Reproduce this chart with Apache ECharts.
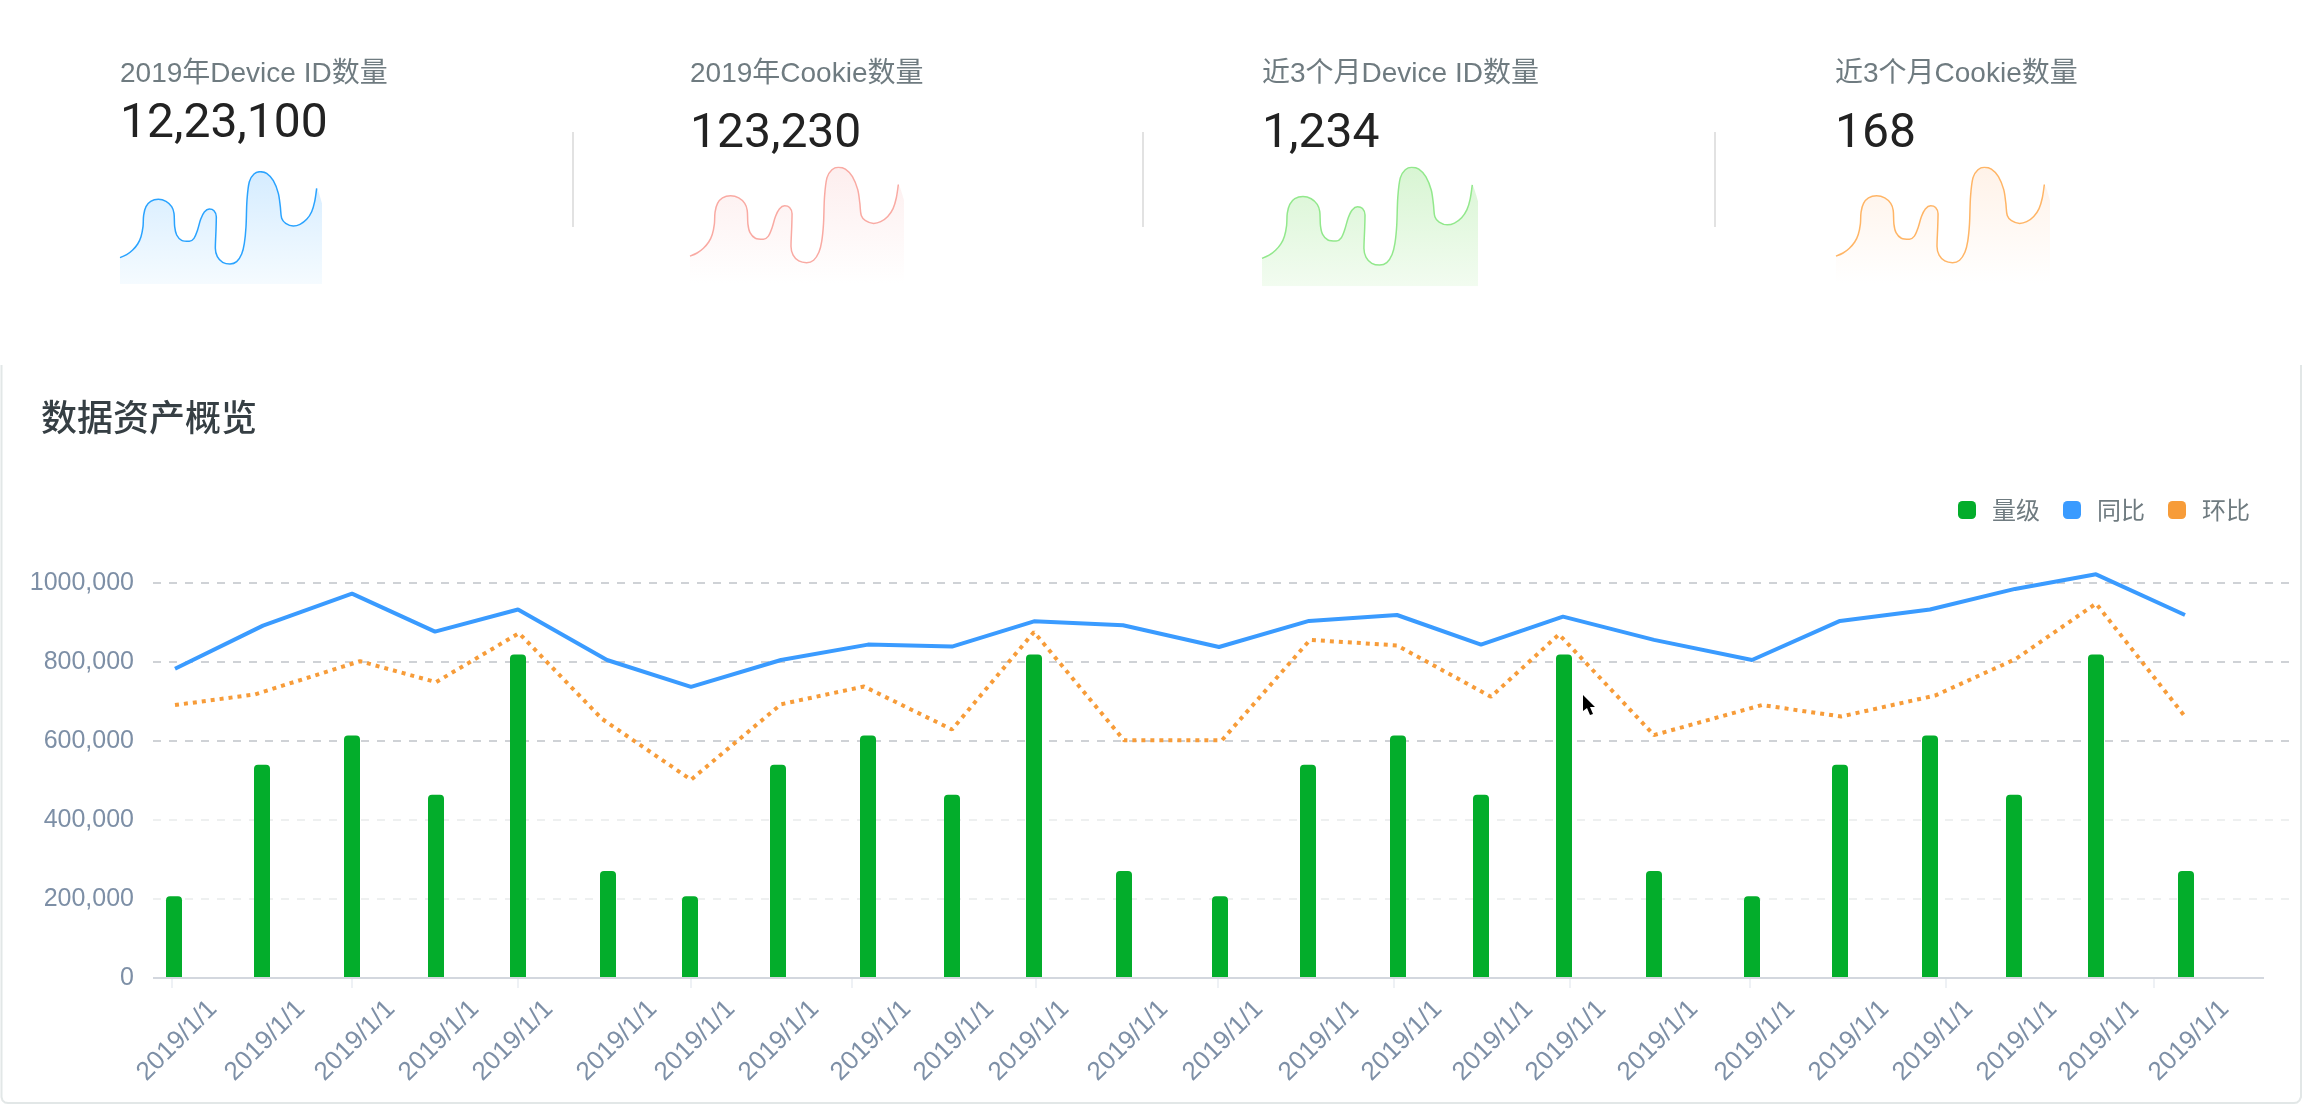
<!DOCTYPE html>
<html><head><meta charset="utf-8">
<style>html,body{margin:0;padding:0;background:#fff}#c{width:2314px;height:1104px}</style>
<script src="https://cdn.jsdelivr.net/npm/echarts@6/dist/echarts.min.js"></script>
</head><body><div id="c"></div>
<script>
const statTitles = ['2019年Device ID数量','2019年Cookie数量','近3个月Device ID数量','近3个月Cookie数量'];
const statValues = ['12,23,100','123,230','1,234','168'];
const sectionTitle = '数据资产概览';
const seriesNames = ['量级','同比','环比'];
const dateLabels = ['2019/1/1','2019/1/1','2019/1/1','2019/1/1','2019/1/1','2019/1/1','2019/1/1','2019/1/1','2019/1/1','2019/1/1','2019/1/1','2019/1/1','2019/1/1','2019/1/1','2019/1/1','2019/1/1','2019/1/1','2019/1/1','2019/1/1','2019/1/1','2019/1/1','2019/1/1','2019/1/1','2019/1/1'];
const valueTickLabels = {0:'0',200000:'200,000',400000:'400,000',600000:'600,000',800000:'800,000',1000000:'1000,000'};

// time-like x readings on the main chart
const labelX = [60,148,238,322,396,500,578,662,754,837,912,1011,1106,1202,1285,1376,1449,1541,1638,1732,1816,1900,1982,2072];
const tickX = [19,199,365,538,699,883,1065,1241,1417,1597,1793,2001];
const barX = [21,109,199,283,365,455,537,625,715,799,881,971,1067,1155,1245,1328,1411,1501,1599,1687,1777,1861,1943,2033];
const blueX = [22,110,199,282,365,454,538,628,715,799,881,970,1066,1156,1244,1328,1410,1501,1599,1687,1777,1862,1943,2032];
const orangeX = [22,102,207,283,366,449,538,628,711,799,881,971,1069,1157,1244,1338,1406,1501,1609,1688,1782,1863,1943,2032];
const barValues = [207000,540000,614000,464000,819000,271000,207000,540000,614000,464000,819000,271000,207000,540000,614000,464000,819000,271000,207000,540000,614000,464000,819000,271000];
const blueValues = [783000,892000,973000,877000,933000,805000,737000,805000,844000,839000,903000,893000,838000,904000,919000,844000,915000,856000,805000,904000,933000,985000,1022000,919000];
const orangeValues = [691000,718000,802000,749000,873000,656000,502000,693000,738000,629000,876000,602000,602000,856000,842000,712000,870000,615000,691000,662000,715000,808000,948000,662000];

// sparkline readings
const sparkX = [0,20,38,53,63,69,71,78,92,115,138,155,162,164,170,185,208,222,232,242,253,268,282,289,288,286,292,308,330,350,365,373,378,381,388,402,420,440,460,475,481,485,497,520,540,560,575,584,590];
const sparkY = [19,28,42,60,82,112,147,172,188,194,188,172,152,112,87,71,68,77,100,134,156,165,160,142,102,47,22,5,0,7,30,62,112,192,247,270,277,272,250,212,172,137,122,114,119,134,157,187,227];
const sparkEdgeX = 606, sparkEdgeY = 182;

const FONT = '"Liberation Sans","Noto Sans CJK SC",sans-serif';
const CJK = '"Noto Sans CJK SC","Liberation Sans",sans-serif';
const LIGHT = 'Roboto,"Liberation Sans",sans-serif';

const zip = (a,b)=>a.map((v,i)=>[v,b[i]]);
const sparks = [
 {left:120, width:202, top:171.7, height:112.3, line:'#2aa3ff', a:'#d5ecff', b:'#f5fbff'},
 {left:690, width:214, top:167.3, height:116, line:'#f9aaa3', a:'#fdeeee', b:'#ffffff'},
 {left:1262, width:216, top:167.3, height:119, line:'#92e88c', a:'#d8f5d3', b:'#f2fcf0'},
 {left:1836, width:214, top:167.3, height:116, line:'#ffb566', a:'#fff2e8', b:'#ffffff'}
];
const statX = [120,690,1262,1835];
const valueTop = [101,111,111,111];

const titles = [];
statTitles.forEach((t,i)=>titles.push({text:t,left:statX[i],top:60,padding:0,textStyle:{fontFamily:FONT,fontSize:28,fontWeight:400,color:'#6f7b80'}}));
statValues.forEach((t,i)=>titles.push({text:t,left:statX[i],top:valueTop[i],padding:0,textStyle:{fontFamily:LIGHT,fontSize:48,fontWeight:400,color:'#222'}}));
titles.push({text:sectionTitle,left:41,top:399,padding:0,textStyle:{fontFamily:CJK,fontSize:36,fontWeight:500,color:'#363f44'}});

const grids=[{left:153,top:583,width:2142,height:395}];
const xAxes=[{type:'value',gridIndex:0,min:0,max:2142,
  axisLine:{show:false},splitLine:{show:false},
  axisTick:{show:true,length:10,customValues:tickX,lineStyle:{color:'#eef1f5',width:2}},
  axisLabel:{show:true,rotate:45,margin:27,customValues:labelX,hideOverlap:false,fontFamily:FONT,fontSize:26,color:'#7d8fa6',
    formatter:(v)=>dateLabels[labelX.indexOf(v)]}}];
const yAxes=[{type:'value',gridIndex:0,min:0,max:1000000,interval:200000,
  axisLine:{show:false},axisTick:{show:false},
  axisLabel:{margin:19,fontFamily:FONT,fontSize:25,color:'#7d8fa6',formatter:v=>valueTickLabels[v]},
  splitLine:{show:true,lineStyle:{type:[8,8],width:2,color:['rgba(0,0,0,0)','#eef0f0','#eef0f0','#cfd2d6','#cfd2d6','#cfd2d6']}}}];
const series=[
 {name:seriesNames[0],type:'bar',xAxisIndex:0,yAxisIndex:0,barWidth:16,data:zip(barX,barValues),
  itemStyle:{color:'#03ad2b',borderRadius:[4,4,0,0]},z:2,
  markLine:{silent:true,symbol:'none',label:{show:false},animation:false,lineStyle:{type:'solid',color:'#d3d7de',width:2},
    data:[[{coord:[0,0]},{coord:[2111,0]}]]}},
 {name:seriesNames[1],type:'line',xAxisIndex:0,yAxisIndex:0,showSymbol:false,clip:false,data:zip(blueX,blueValues),
  lineStyle:{color:'#3a9bff',width:4},itemStyle:{color:'#3a9bff'},z:3},
 {name:seriesNames[2],type:'line',xAxisIndex:0,yAxisIndex:0,showSymbol:false,clip:false,data:zip(orangeX,orangeValues),
  lineStyle:{color:'#f79c39',width:4,type:[4,5]},itemStyle:{color:'#f79c39'},z:3}
];
sparks.forEach((s,i)=>{
  const g=i+1;
  grids.push({left:s.left,top:s.top,width:s.width,height:s.height});
  xAxes.push({type:'value',gridIndex:g,min:0,max:sparkEdgeX,show:false});
  yAxes.push({type:'value',gridIndex:g,min:-60,max:277,show:false,splitLine:{show:false}});
  const fill={type:'linear',x:0,y:0,x2:0,y2:1,colorStops:[{offset:0,color:s.a},{offset:1,color:s.b}]};
  series.push({type:'line',name:statTitles[i]+'填充',xAxisIndex:g,yAxisIndex:g,showSymbol:false,smooth:0.3,silent:true,
    data:zip(sparkX.concat(sparkEdgeX),sparkY.concat(sparkEdgeY)),lineStyle:{width:0,opacity:0},areaStyle:{color:fill,opacity:1,origin:'start'},z:1});
  series.push({type:'line',name:statTitles[i]+'走势',xAxisIndex:g,yAxisIndex:g,showSymbol:false,smooth:0.3,silent:true,
    data:zip(sparkX,sparkY),lineStyle:{width:1.5,color:s.line},itemStyle:{color:s.line},z:2});
});

const dividerX=[573,1143,1715];
const graphic=[
 {type:'polyline',silent:true,z:-1,shape:{points:[[1.5,365],[1.5,1097],[2.5,1100.5],[5,1102.5],[8,1103],[2294,1103],[2297,1102.5],[2299.5,1100.5],[2301,1097],[2301,365]]},
  style:{fill:'none',stroke:'#e2e7e7',lineWidth:2}},
 {type:'polygon',silent:true,z:50,shape:{points:[[1583,695],[1583,711],[1587,708],[1590,715],[1593,714],[1590,707],[1595,707]]},style:{fill:'#000'}}
];
dividerX.forEach(x=>graphic.push({type:'line',silent:true,shape:{x1:x,y1:132,x2:x,y2:227},style:{stroke:'#d8d8d8',lineWidth:1.5}}));

const chart=echarts.init(document.getElementById('c'),null,{renderer:'canvas'});
chart.setOption({
  animation:false,backgroundColor:'#fff',
  title:titles,grid:grids,xAxis:xAxes,yAxis:yAxes,series:series,graphic:graphic,
  legend:{data:seriesNames,right:59,top:493,icon:'roundRect',itemWidth:18,itemHeight:18,itemGap:23,
    textStyle:{fontFamily:CJK,fontSize:24,color:'#6f7b80',padding:[0,0,0,11]},itemStyle:{borderWidth:0},lineStyle:{width:0}}
});
</script></body></html>
